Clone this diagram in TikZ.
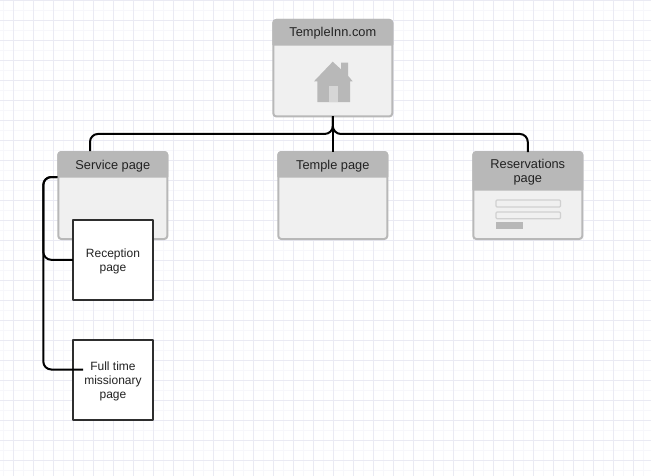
\documentclass[tikz,border=0pt]{standalone}
\usepackage{fontspec}
\setmainfont{Liberation Sans}
\definecolor{gridminor}{HTML}{F7F7FB}
\definecolor{gridmajor}{HTML}{EAEAF3}
\definecolor{cardgray}{HTML}{B8B8B8}
\definecolor{cardfill}{HTML}{F0F0F0}
\definecolor{doorfill}{HTML}{D6D6D6}
\definecolor{fieldline}{HTML}{D0D0D0}
\definecolor{inktext}{HTML}{222222}
\definecolor{boxline}{HTML}{2E2E2E}
\begin{document}
\begin{tikzpicture}[
	x=1pt,
	y=-1pt,
	line join=round,
	card/.style={draw=cardgray,fill=cardfill,line width=2pt,rounded corners=3pt,inner sep=0pt,outer sep=0pt,minimum width=109pt,minimum height=87pt},
	cardhead/.style={draw=cardgray,fill=cardgray,line width=2pt},
	cardtext/.style={text=inktext,font=\fontsize{12.8}{14}\selectfont,align=center,inner sep=0pt},
	pagebox/.style={draw=boxline,fill=white,line width=2pt,inner sep=0pt,outer sep=0pt,minimum width=80pt,minimum height=80pt},
	boxtext/.style={text=inktext,font=\fontsize{12}{14}\selectfont,align=center,inner sep=0pt},
	field/.style={draw=fieldline,fill=cardfill,line width=1.2pt,rounded corners=1pt},
	link/.style={draw=black,line width=2pt,rounded corners=8pt}
	]
	\useasboundingbox (0,0) rectangle (651,475);
	\fill[white] (0,0) rectangle (651,475);
	% background grid
	\begin{scope}
		\clip (0,0) rectangle (651,475);
		\draw[gridminor,line width=0.8pt,xshift=3.33pt] (-10,480) grid[xstep=10pt,ystep=10pt] (650,0);
		\draw[gridmajor,line width=0.8pt,xshift=13.33pt] (-20,480) grid[xstep=20pt,ystep=20pt] (640,0);
	\end{scope}
	% cards
	\node[card,minimum width=119pt,minimum height=96.5pt] (site) at (332.8,68.2) {};
	\node[card] (service) at (112.8,195.5) {};
	\node[card] (temple) at (332.8,195.5) {};
	\node[card] (reservations) at (527.8,195.5) {};
	\foreach \card/\headh in {site/-24.7pt,service/-24.7pt,temple/-24.7pt,reservations/-37.7pt}
		\filldraw[cardhead] ([yshift=\headh]\card.north west) -- ([yshift=-3pt]\card.north west) [rounded corners=3pt] -- (\card.north west) -- (\card.north east) [sharp corners] -- ([yshift=\headh]\card.north east) -- cycle;
	\node[cardtext] (sitelabel) at (332.8,33) {TempleInn.com};
	\node[cardtext] (servicelabel) at (112.8,166) {Service page};
	\node[cardtext] (templelabel) at (332.8,166) {Temple page};
	\node[cardtext] (reservationslabel) at (527.8,172.5) {Reservations\\page};
	% house icon
	\fill[cardgray] (332.7,61.7) -- (341,69.3) -- (341,62.7) -- (348,62.7) -- (348,75.7) -- (352.7,81.3) -- (350,81.3) -- (350,102) -- (317.3,102) -- (317.3,81.3) -- (314,81.3) -- cycle;
	\fill[doorfill] (329,86) rectangle (338,102);
	% form icon
	\draw[field] (496,200) rectangle (560.5,207);
	\draw[field] (496,212) rectangle (560.5,218.7);
	\fill[cardgray] (496,222) rectangle (523.3,229);
	% sub pages
	\node[pagebox] (reception) at (112.8,259.8) {};
	\node[pagebox] (missionary) at (112.8,379.8) {};
	\node[boxtext] (receptionlabel) at (113,261.5) {Reception\\page};
	\node[boxtext] (missionarylabel) at (113,381.5) {Full time\\missionary\\page};
	% connectors
	\coordinate (serviceport) at (90,151);
	\coordinate (serviceside) at (57.3,177);
	\coordinate (missionaryend) at (83,369.5);
	\draw[link] (site.south) -- ++(0,17.5) -| (serviceport);
	\draw[link] (site.south) -- ++(0,17.5) -| (reservations.north);
	\draw[link] (site.south) -- (temple.north);
	\draw[link] (serviceside) -- (43.3,177) |- (reception.west);
	\draw[link] (serviceside) -- (43.3,177) |- (missionaryend);
\end{tikzpicture}
\end{document}
